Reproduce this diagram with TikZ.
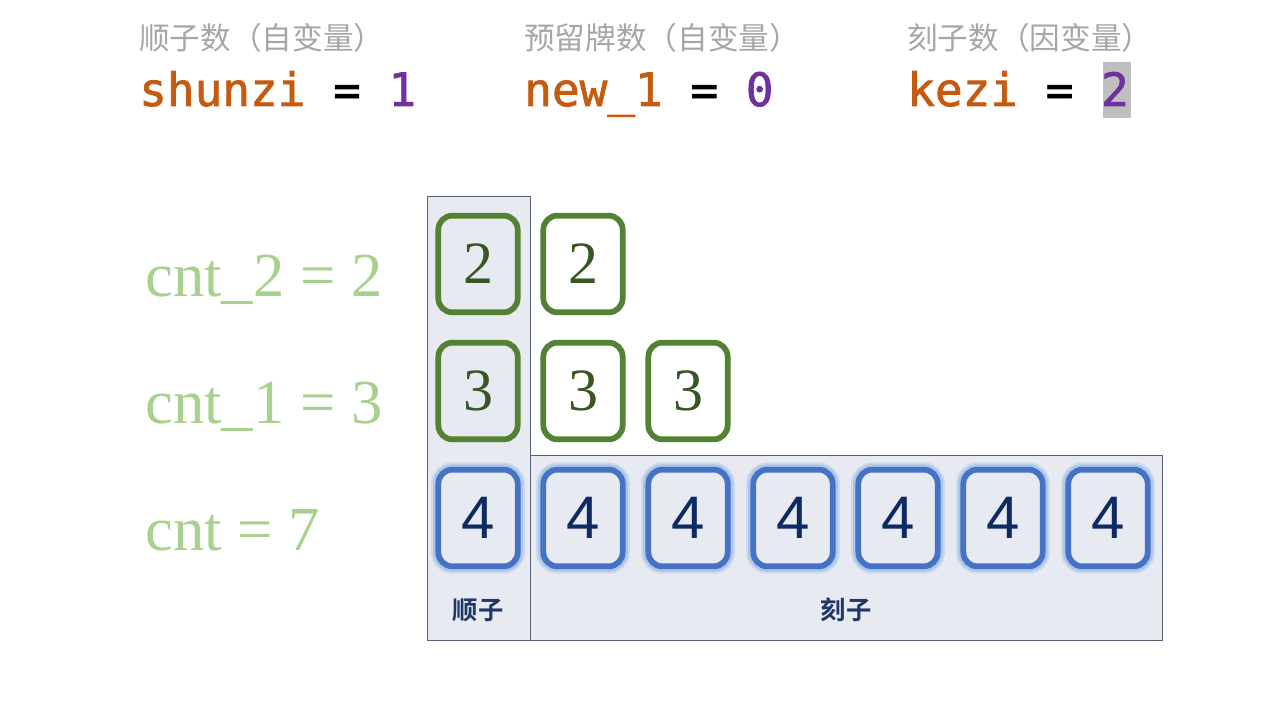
\documentclass[tikz,border=0pt]{standalone}
\usepackage{fontspec}
\usetikzlibrary{shadows}
\newfontfamily\cjkf{Noto Sans CJK SC}[BoldFont=* Bold]
\newfontfamily\codef{DejaVu Sans Mono}[FakeBold=1.5]
\newfontfamily\serf{Liberation Serif}
\newfontfamily\sanf{Liberation Sans}
\definecolor{hgray}{HTML}{A6A6A6}
\definecolor{corange}{HTML}{C55A11}
\definecolor{cpurple}{HTML}{7030A0}
\definecolor{hlgray}{HTML}{BFBFBF}
\definecolor{lgreen}{HTML}{A9D18E}
\definecolor{dgreen}{HTML}{548235}
\definecolor{ngreen}{HTML}{375623}
\definecolor{tblue}{HTML}{4472C4}
\definecolor{glowblue}{HTML}{8FB4E3}
\definecolor{nblue}{HTML}{0E2A63}
\definecolor{pfill}{HTML}{E8EAF1}
\definecolor{pborder}{HTML}{5A6275}
\definecolor{lnavy}{HTML}{1F3864}
\tikzset{
  head/.style={anchor=base west, inner sep=0, text=hgray, font=\cjkf\fontsize{23pt}{25pt}\selectfont},
  code/.style={anchor=base west, inner sep=0, font=\codef\fontsize{34.5pt}{36pt}\selectfont},
  cntlab/.style={anchor=base west, inner sep=0, text=lgreen, font=\serf\fontsize{47pt}{50pt}\selectfont},
  panel/.style={draw=pborder, line width=0.75pt, fill=pfill, drop shadow={opacity=0.25, shadow xshift=1pt, shadow yshift=-1pt}},
  gtile/.style={draw=dgreen, line width=4.3pt, rounded corners=10.5pt, minimum width=59.5pt, minimum height=72.5pt, inner sep=0, text=ngreen, font=\serf\fontsize{45pt}{47pt}\selectfont, drop shadow={opacity=0.4, shadow xshift=1pt, shadow yshift=-2pt}},
  btile/.style={draw=tblue, fill=pfill, line width=4.3pt, rounded corners=10.5pt, minimum width=59.5pt, minimum height=72.5pt, inner sep=0, text=nblue, font=\sanf\fontsize{45pt}{47pt}\selectfont,
    preaction={draw=glowblue, draw opacity=0.3, line width=11pt},
    preaction={draw=glowblue, draw opacity=0.5, line width=8pt}},
  plab/.style={inner sep=0, text=lnavy, font=\cjkf\bfseries\fontsize{19pt}{21pt}\selectfont}
}
\begin{document}
\begin{tikzpicture}[x=0.75pt,y=-0.75pt]
\useasboundingbox (0,0) rectangle (1280,720);
% headers
\node[head] (h1) at (139,50) {顺子数（自变量）};
\node[head] (h2) at (524,50) {预留牌数（自变量）};
\node[head] (h3) at (907,50) {刻子数（因变量）};
% highlight
\fill[hlgray] (1103,62) rectangle (1131,118);
\node[code] (c1) at (139,106) {\textcolor{corange}{shunzi} = \textcolor{cpurple}{1}};
\node[code] (c2) at (524,106) {\textcolor{corange}{new\_1} = \textcolor{cpurple}{0}};
\node[code] (c3) at (907,106) {\textcolor{corange}{kezi} = \textcolor{cpurple}{2}};
% left labels
\node[cntlab] (l1) at (145,296) {cnt\_2 = 2};
\node[cntlab] (l2) at (145,423) {cnt\_1 = 3};
\node[cntlab] (l3) at (145,550) {cnt = 7};
% panels
\path[panel] (427,197) rectangle (530,640);
\path[panel] (530,455) rectangle (1162,640);
\node[plab] (p1) at (478,610) {顺子};
\node[plab] (p2) at (846,610) {刻子};
% green tiles
\node[gtile, fill=pfill] (a1) at (478,264) {2};
\node[gtile, fill=white] (a2) at (583,264) {2};
\node[gtile, fill=pfill] (b1) at (478,391) {3};
\node[gtile, fill=white] (b2) at (583,391) {3};
\node[gtile, fill=white] (b3) at (688,391) {3};
% blue tiles
\foreach \i/\x in {1/478,2/583,3/688,4/793,5/898,6/1003,7/1108}{
  \node[btile] (d\i) at (\x,518) {4};
}
\end{tikzpicture}
\end{document}
